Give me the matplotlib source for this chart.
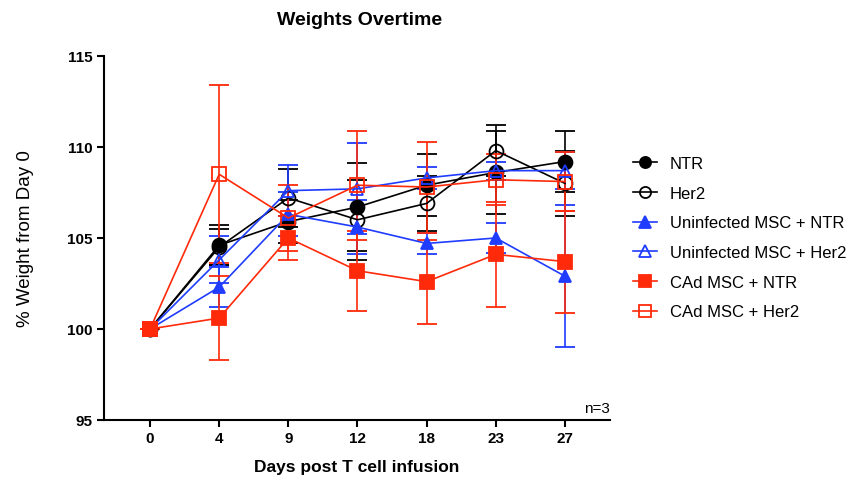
import numpy as np
import matplotlib.pyplot as plt
from matplotlib.lines import Line2D

plt.rcParams['font.family'] = ['Liberation Sans', 'DejaVu Sans']

# Datos
dias = ['0', '4', '9', '12', '18', '23', '27']
grupos = ['NTR', 'Her2', 'Uninfected MSC + NTR', 'Uninfected MSC + Her2',
          'CAd MSC + NTR', 'CAd MSC + Her2']

ntr = [100, 104.6, 105.9, 106.7, 107.9, 108.6, 109.2]
ntr_err = [0, 1.1, 1.2, 2.4, 1.7, 2.3, 1.7]
her2 = [100, 104.5, 107.2, 106.0, 106.9, 109.8, 108.0]
her2_err = [0, 1.0, 1.6, 2.2, 1.5, 1.4, 1.8]
msc_ntr = [100, 102.3, 106.3, 105.6, 104.7, 105.0, 102.9]
msc_ntr_err = [0, 1.1, 1.2, 1.5, 0.6, 0.8, 3.9]
msc_her2 = [100, 103.8, 107.6, 107.7, 108.3, 108.7, 108.7]
msc_her2_err = [0, 1.3, 1.4, 2.5, 0.6, 0.5, 1.0]
cad_ntr = [100, 100.6, 105.0, 103.2, 102.6, 104.1, 103.7]
cad_ntr_err = [0, 2.3, 1.2, 2.2, 2.3, 2.9, 2.8]
cad_her2 = [100, 108.5, 106.1, 107.9, 107.8, 108.2, 108.1]
cad_her2_err = [0, 4.9, 1.8, 3.0, 2.5, 1.4, 1.6]

series = [ntr, her2, msc_ntr, msc_her2, cad_ntr, cad_her2]
errores = [ntr_err, her2_err, msc_ntr_err, msc_her2_err, cad_ntr_err, cad_her2_err]
colores = ['black', 'black', '#1f3cff', '#1f3cff', '#ff2a0a', '#ff2a0a']
marcadores = ['o', 'o', '^', '^', 's', 's']
rellenos = [True, False, True, False, True, False]

x = np.arange(len(dias))

fig = plt.figure(figsize=(8.53, 4.85), dpi=100)
ax = fig.add_axes([0.122, 0.132, 0.593, 0.7505])

handles = []
for y, e, c, m, f, lab in zip(series, errores, colores, marcadores, rellenos, grupos):
    ax.errorbar(x, y, yerr=e, color=c, marker=m, markersize=10 if m != '^' else 9,
                markerfacecolor=c if f else 'none', markeredgecolor=c,
                markeredgewidth=1.3, linewidth=1.2, elinewidth=1.2,
                capsize=7, capthick=1.2)
    handles.append(Line2D([], [], color=c, marker=m, markersize=8,
                          markerfacecolor=c if f else 'none', markeredgecolor=c,
                          markeredgewidth=1.3, linewidth=1.2, label=lab))

ax.set_xlim(-0.665, 6.65)
ax.set_ylim(95, 115)
ax.set_yticks([95, 100, 105, 110, 115])
ax.set_xticks(x)
ax.set_xticklabels(dias)

for lbl in ax.get_xticklabels() + ax.get_yticklabels():
    lbl.set_fontweight('bold')
    lbl.set_fontsize(11)

ax.spines['top'].set_visible(False)
ax.spines['right'].set_visible(False)
ax.spines['left'].set_linewidth(1.5)
ax.spines['bottom'].set_linewidth(1.5)
ax.tick_params(width=1.5, length=5, pad=3)

fig.text(0.421, 0.957, 'Weights Overtime', fontsize=14, fontweight='bold',
         ha='center', va='center')
ax.set_xlabel('Days post T cell infusion', fontsize=12.5, fontweight='bold', labelpad=10)
ax.set_ylabel('% Weight from Day 0', fontsize=13.5, labelpad=24)
ax.text(6.65, 95.3, 'n=3', fontsize=11, ha='right', va='bottom')

fig.legend(handles=handles, loc='upper left', bbox_to_anchor=(0.7345, 0.69),
           frameon=False, fontsize=12, handlelength=1.45, labelspacing=0.88,
           handletextpad=0.75, borderaxespad=0)

plt.savefig('out.png', dpi=100)
